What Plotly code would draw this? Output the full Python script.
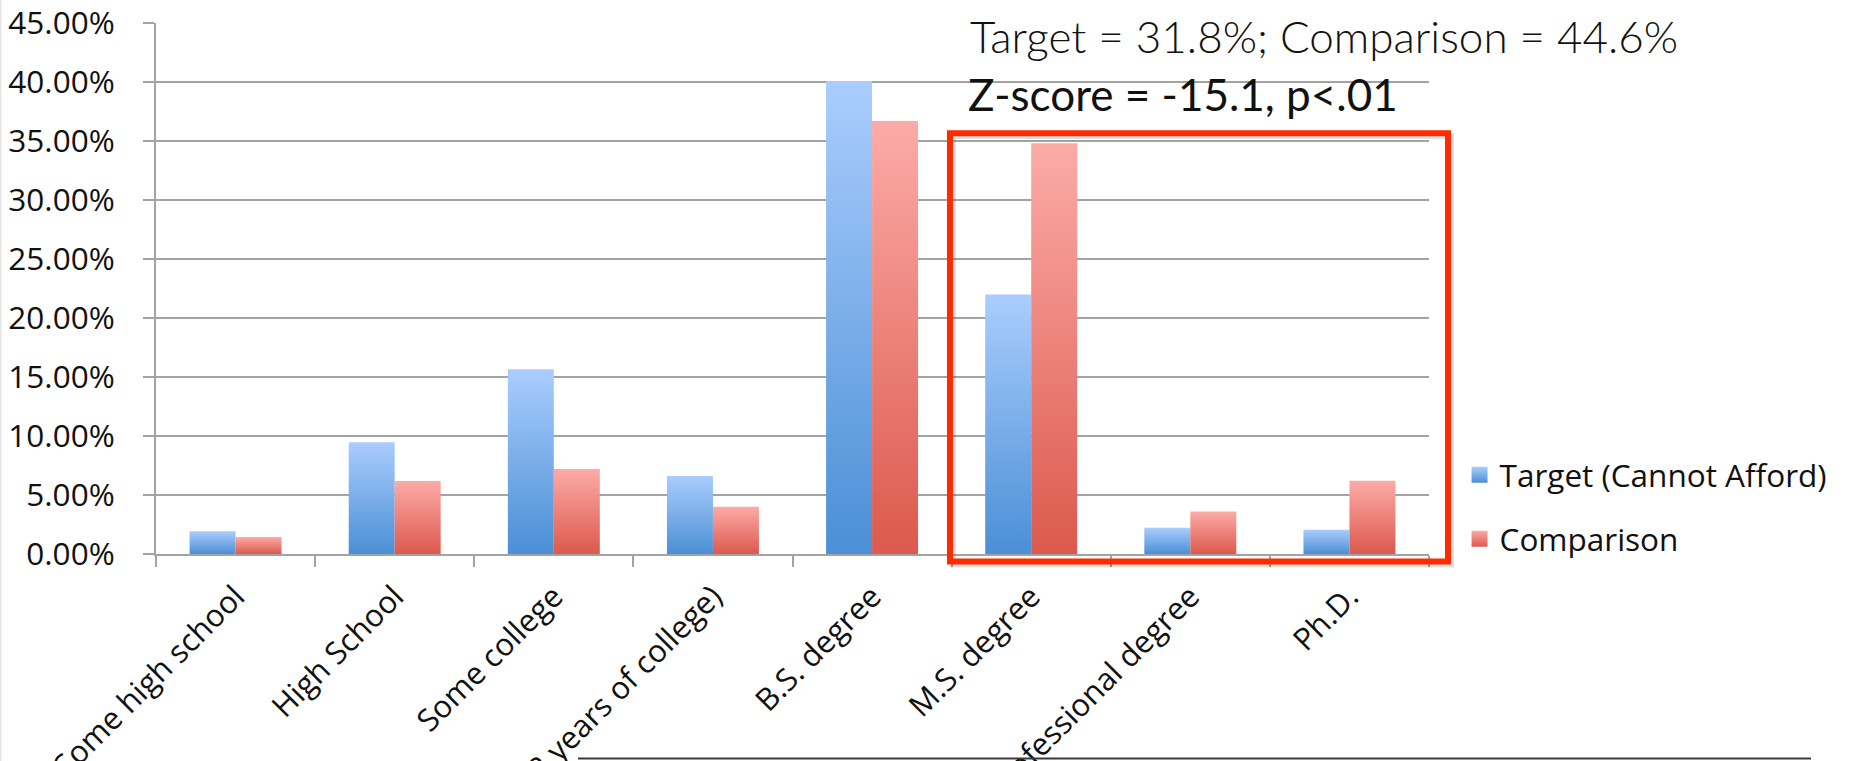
import plotly.graph_objects as go

# Education level shares for the two respondent groups
categories = [
    "Some high school",
    "High School",
    "Some college",
    "Associate's degree (2 years of college)",
    "B.S. degree",
    "M.S. degree",
    "Professional degree",
    "Ph.D.",
]
target_share = [0.0192, 0.0947, 0.1566, 0.0662, 0.4009, 0.2200, 0.0222, 0.0205]
comparison_share = [0.0144, 0.0619, 0.0721, 0.0400, 0.3670, 0.3480, 0.0360, 0.0620]

series = [
    ("Target (Cannot Afford)", target_share, "#aacdfd", "#4b8fd6"),
    ("Comparison", comparison_share, "#fcaba7", "#dc594d"),
]

BAR_W = 0.289          # width of one bar in category units
GRID = "#a3a3a3"
FONT = "Open Sans"

fig = go.Figure()

# Each bar is a filled polygon so it can carry its own vertical gradient
for s, (name, values, light, dark) in enumerate(series):
    for i, v in enumerate(values):
        x0 = i - BAR_W + s * BAR_W
        x1 = x0 + BAR_W
        fig.add_trace(go.Scatter(
            x=[x0, x0, x1, x1, x0],
            y=[0, v, v, 0, 0],
            mode="lines",
            line=dict(width=0),
            fill="toself",
            fillgradient=dict(type="vertical",
                              colorscale=[[0, dark], [1, light]],
                              start=0, stop=v),
            showlegend=False,
            hoverinfo="skip",
        ))

# Legend keys with the same gradients
for name, values, light, dark in series:
    fig.add_trace(go.Scatter(
        x=[None], y=[None], mode="markers", name=name,
        legendgroup=name,
        marker=dict(symbol="square", size=21, color=light,
                    gradient=dict(type="vertical", color=dark),
                    line=dict(width=0)),
    ))

n = len(categories)
fig.update_xaxes(
    range=[-0.5, n - 0.5],
    tickmode="array",
    tickvals=list(range(n)),
    ticktext=categories,
    tickangle=-45,
    ticks="",
    ticklabelstandoff=10,
    tickfont=dict(family=FONT, size=31, color="#111111"),
    showgrid=False,
    zeroline=False,
    showline=True, linecolor=GRID, linewidth=2,
    minor=dict(tickmode="array", tickvals=[k - 0.5 for k in range(n + 1)],
               ticks="outside", ticklen=11, tickwidth=2, tickcolor=GRID),
    automargin=False,
    fixedrange=True,
)
fig.update_yaxes(
    range=[0, 0.45],
    dtick=0.05,
    tickformat=".2%",
    tickfont=dict(family=FONT, size=31.5, color="#111111"),
    ticks="outside", ticklen=11, tickwidth=2, tickcolor=GRID,
    ticklabelstandoff=22,
    showgrid=True, gridcolor=GRID, gridwidth=2,
    showline=True, linecolor=GRID, linewidth=2,
    zeroline=False,
    automargin=False,
    fixedrange=True,
)

# Highlight box around the graduate degrees, with a soft shadow
fig.add_shape(type="rect", xref="paper", yref="paper",
              x0=0.6261, x1=1.0173, y0=-0.0198, y1=0.7867,
              line=dict(color="rgba(0,0,0,0.12)", width=6), layer="above")
fig.add_shape(type="rect", xref="paper", yref="paper",
              x0=0.6237, x1=1.0149, y0=-0.0141, y1=0.7923,
              line=dict(color="#ff2a00", width=6), layer="above")

# Rule along the bottom of the slide and faint left border
fig.add_shape(type="line", xref="paper", yref="paper",
              x0=0.3315, x1=1.3001, y0=-0.3853, y1=-0.3853,
              line=dict(color="#3a3a3a", width=2))
fig.add_shape(type="line", xref="paper", yref="paper",
              x0=-0.1221, x1=-0.1221, y0=-0.45, y1=1.1,
              line=dict(color="#e4e4e4", width=2))

fig.add_annotation(text="Target = 31.8%; Comparison = 44.6%",
                   xref="paper", yref="paper", x=0.638, y=0.975,
                   xanchor="left", yanchor="middle", showarrow=False,
                   font=dict(family="Lato", size=44, color="#111111",
                             weight=300))
fig.add_annotation(text="Z-score = -15.1, p<.01",
                   xref="paper", yref="paper", x=0.636, y=0.866,
                   xanchor="left", yanchor="middle", showarrow=False,
                   font=dict(family="Lato", size=44, color="#111111"))

fig.update_layout(
    width=1850, height=761,
    margin=dict(l=156, r=421, t=22.5, b=206.5),
    template="none",
    paper_bgcolor="white",
    plot_bgcolor="white",
    showlegend=True,
    legend=dict(x=1.024, xanchor="left", y=0.089, yanchor="middle",
                font=dict(family=FONT, size=31.5, color="#111111"),
                traceorder="grouped", tracegroupgap=20,
                bgcolor="rgba(0,0,0,0)"),
)

fig.write_html("out.html")
